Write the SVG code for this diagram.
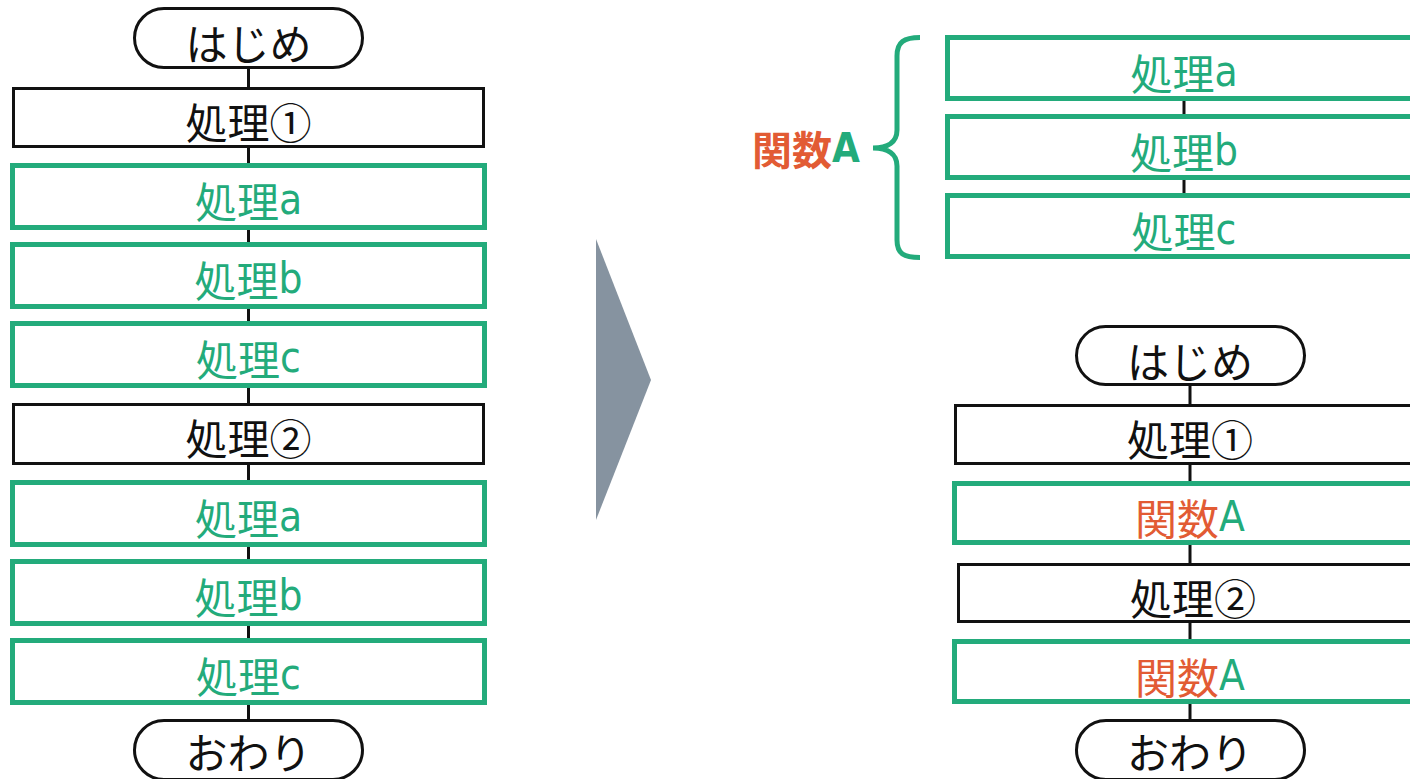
<svg xmlns="http://www.w3.org/2000/svg" width="1410" height="779" viewBox="0 0 1410 779">
<style>
text{font-family:"Noto Sans CJK JP","Noto Sans CJK SC",sans-serif;font-size:42px;text-anchor:middle;dominant-baseline:central}
.blk{fill:#fff;stroke:#111;stroke-width:3}
.grn{fill:#fff;stroke:#23ab7b;stroke-width:5}
.term{fill:#fff;stroke:#111;stroke-width:3}
.tb{fill:#111}
.tg{fill:#23ab7b}
.to{fill:#e25b34}
.lat{font-family:"Liberation Sans Narrow","DejaVu Sans Condensed","Noto Sans CJK JP",sans-serif;font-stretch:condensed}
.conn line{stroke:#111;stroke-width:3}
</style>
<g id="connectors" class="conn">
<line x1="248.5" y1="69" x2="248.5" y2="87"/>
<line x1="248.5" y1="148" x2="248.5" y2="163"/>
<line x1="248.5" y1="230" x2="248.5" y2="242"/>
<line x1="248.5" y1="309" x2="248.5" y2="321"/>
<line x1="248.5" y1="388" x2="248.5" y2="403"/>
<line x1="248.5" y1="465" x2="248.5" y2="480"/>
<line x1="248.5" y1="546" x2="248.5" y2="559"/>
<line x1="248.5" y1="625" x2="248.5" y2="638"/>
<line x1="248.5" y1="704" x2="248.5" y2="719"/>
<line x1="1184" y1="101" x2="1184" y2="114"/>
<line x1="1184" y1="180" x2="1184" y2="193"/>
<line x1="1190" y1="386" x2="1190" y2="404"/>
<line x1="1190" y1="465" x2="1190" y2="481"/>
<line x1="1190" y1="545" x2="1190" y2="563"/>
<line x1="1190" y1="623" x2="1190" y2="639"/>
<line x1="1190" y1="704" x2="1190" y2="719"/>
</g>
<g id="L-start"><rect class="term" x="134.5" y="8.5" width="228" height="59" rx="29.5"/><text class="tb" x="248.5" y="41">はじめ</text></g>
<g id="L-p1"><rect class="blk" x="13.5" y="88.5" width="470" height="58"/><text class="tb" x="248.5" y="120">処理①</text></g>
<g id="L-a1"><rect class="grn" x="12.5" y="165.5" width="472" height="62"/><text class="tg" x="248.5" y="199">処理<tspan class="lat">a</tspan></text></g>
<g id="L-b1"><rect class="grn" x="12.5" y="244.5" width="472" height="62"/><text class="tg" x="248.5" y="278">処理<tspan class="lat">b</tspan></text></g>
<g id="L-c1"><rect class="grn" x="12.5" y="323.5" width="472" height="62"/><text class="tg" x="248.5" y="357">処理<tspan class="lat">c</tspan></text></g>
<g id="L-p2"><rect class="blk" x="13.5" y="404.5" width="470" height="59"/><text class="tb" x="248.5" y="436.5">処理②</text></g>
<g id="L-a2"><rect class="grn" x="12.5" y="482.5" width="472" height="62"/><text class="tg" x="248.5" y="516">処理<tspan class="lat">a</tspan></text></g>
<g id="L-b2"><rect class="grn" x="12.5" y="561.5" width="472" height="62"/><text class="tg" x="248.5" y="595">処理<tspan class="lat">b</tspan></text></g>
<g id="L-c2"><rect class="grn" x="12.5" y="640.5" width="472" height="62"/><text class="tg" x="248.5" y="674">処理<tspan class="lat">c</tspan></text></g>
<g id="L-end"><rect class="term" x="134.5" y="720.5" width="228" height="59" rx="29.5"/><text class="tb" x="248.5" y="750">おわり</text></g>
<g id="arrow"><polygon points="596,239 651,380 596,520" fill="#8693a0"/></g>
<g id="func-label"><text x="806" y="148" style="font-weight:bold;font-size:40px"><tspan class="to">関数</tspan><tspan class="tg lat">A</tspan></text>
<path d="M920,37.5 C904,37.5 897,42 897,56 L897,130 C897,142 888,148 873,148 C888,148 897,154 897,166 L897,240 C897,254 904,257.5 920,257.5" fill="none" stroke="#23ab7b" stroke-width="5"/></g>
<g id="R-a"><rect class="grn" x="947.5" y="37.5" width="472" height="61"/><text class="tg" x="1184" y="71">処理<tspan class="lat">a</tspan></text></g>
<g id="R-b"><rect class="grn" x="947.5" y="116.5" width="472" height="61"/><text class="tg" x="1184" y="150">処理<tspan class="lat">b</tspan></text></g>
<g id="R-c"><rect class="grn" x="947.5" y="195.5" width="472" height="61"/><text class="tg" x="1184" y="229">処理<tspan class="lat">c</tspan></text></g>
<g id="R-start"><rect class="term" x="1076.5" y="326.5" width="228" height="58" rx="29"/><text class="tb" x="1190" y="359">はじめ</text></g>
<g id="R-p1"><rect class="blk" x="955.5" y="405.5" width="470" height="58"/><text class="tb" x="1190" y="437">処理①</text></g>
<g id="R-f1"><rect class="grn" x="954.5" y="483.5" width="472" height="59"/><text x="1190" y="516"><tspan class="to">関数</tspan><tspan class="tg lat">A</tspan></text></g>
<g id="R-p2"><rect class="blk" x="958.5" y="564.5" width="470" height="57"/><text class="tb" x="1193" y="596">処理②</text></g>
<g id="R-f2"><rect class="grn" x="954.5" y="641.5" width="472" height="60"/><text x="1190" y="675"><tspan class="to">関数</tspan><tspan class="tg lat">A</tspan></text></g>
<g id="R-end"><rect class="term" x="1076.5" y="720.5" width="228" height="59" rx="29.5"/><text class="tb" x="1190" y="750">おわり</text></g>
</svg>
